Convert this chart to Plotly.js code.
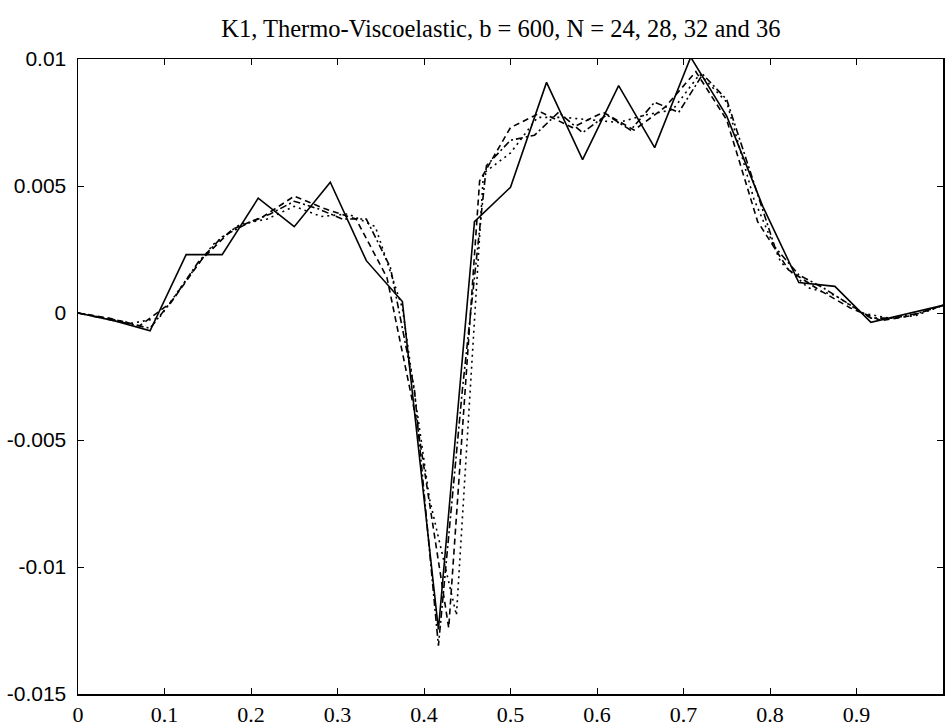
<!DOCTYPE html>
<html>
<head>
<meta charset="utf-8">
<script src="https://cdn.plot.ly/plotly-3.0.1.min.js"></script>
<style>
  html, body { margin: 0; padding: 0; background: #ffffff; }
  #chart { width: 945px; height: 728px; }
</style>
</head>
<body>
<div id="chart"></div>
<script>
// ---- Data ----
// N = 24 (solid), nodes at i/24
const n24Values = [0, -0.0003, -0.0007, 0.0023, 0.0023, 0.00452, 0.0034, 0.00515, 0.00206, 0.00045,
  -0.01246, 0.0036, 0.00495, 0.00908, 0.00604, 0.00895, 0.00651, 0.01007, 0.00775, 0.0042,
  0.0012, 0.00105, -0.00037, -0.00005, 0.0003];
// N = 28 (dashed), nodes at i/28
const n28Values = [0, -0.0002, -0.0005, 0.0004, 0.0021, 0.0033, 0.0038, 0.0046, 0.0041, 0.0037,
  0.0014, -0.0045, -0.0124, 0.0052, 0.0073, 0.0079, 0.0073, 0.0079, 0.0072, 0.0081,
  0.0095, 0.0076, 0.0036, 0.0017, 0.0009, 0.0002, -0.0003, -0.0001, 0.0003];
// N = 32 (dotted), nodes at i/32
const n32Values = [0, -0.0002, -0.0004, -0.0002, 0.0013, 0.0027, 0.0035, 0.0037, 0.0042, 0.0038,
  0.0039, 0.0034, 0.0002, -0.0073, -0.0119, 0.0055, 0.0063, 0.0077, 0.0077, 0.0076,
  0.0075, 0.0078, 0.0080, 0.0094, 0.0083, 0.0045, 0.0020, 0.0010, 0.0007, 0.0000,
  -0.0002, -0.0001, 0.0003];
// N = 36 (dash-dot), nodes at i/36
const n36Values = [0, -0.0002, -0.0004, -0.0006, 0.0006, 0.0020, 0.0030, 0.0035, 0.0039, 0.0044,
  0.0041, 0.0037, 0.0037, 0.0018, -0.0030, -0.0131, -0.0030, 0.0058, 0.0068, 0.0070,
  0.0079, 0.0071, 0.0078, 0.0072, 0.0083, 0.0079, 0.0094, 0.0084, 0.0055, 0.0026,
  0.0015, 0.0010, 0.0004, -0.0002, -0.0002, 0.0000, 0.0003];

const xTickVals = [0, 0.1, 0.2, 0.3, 0.4, 0.5, 0.6, 0.7, 0.8, 0.9];
const xTickText = ["0", "0.1", "0.2", "0.3", "0.4", "0.5", "0.6", "0.7", "0.8", "0.9"];
const yTickVals = [0.01, 0.005, 0, -0.005, -0.01, -0.015];
const yTickText = ["0.01", "0.005", "0", "-0.005", "-0.01", "-0.015"];

const titleText = "K1, Thermo-Viscoelastic, b = 600, N = 24, 28, 32 and 36";

function nodes(values) {
  const n = values.length - 1;
  return values.map((_, i) => i / n);
}

function trace(values, dash, name) {
  return {
    x: nodes(values), y: values, type: 'scatter', mode: 'lines', name: name,
    line: { color: '#000000', width: 1.6, dash: dash }, hoverinfo: 'skip'
  };
}

const data = [
  trace(n24Values, 'solid', 'N = 24'),
  trace(n28Values, '6px,4px', 'N = 28'),
  trace(n32Values, '2px,4px', 'N = 32'),
  trace(n36Values, '7px,3px,2px,3px', 'N = 36')
];

const layout = {
  width: 945, height: 728,
  paper_bgcolor: '#ffffff', plot_bgcolor: '#ffffff',
  margin: { l: 78, r: 2, t: 59, b: 34 },
  showlegend: false,
  title: {
    text: titleText,
    font: { family: 'Liberation Serif, Times New Roman, serif', size: 24.5, color: '#000000' },
    x: 0.53, xanchor: 'center', y: 0.961, yanchor: 'middle'
  },
  xaxis: {
    range: [0, 1], tickmode: 'array', tickvals: xTickVals, ticktext: xTickText,
    ticks: 'inside', ticklen: 6, tickwidth: 1, tickcolor: '#000000',
    showline: true, linecolor: '#000000', linewidth: 1.5, mirror: 'ticks',
    showgrid: false, zeroline: false,
    tickfont: { family: 'Liberation Serif, Times New Roman, serif', size: 22, color: '#000000' }
  },
  yaxis: {
    range: [-0.015, 0.01], tickmode: 'array', tickvals: yTickVals, ticktext: yTickText,
    ticks: 'inside', ticklen: 6, tickwidth: 1, tickcolor: '#000000',
    showline: true, linecolor: '#000000', linewidth: 1.5, mirror: 'ticks',
    showgrid: false, zeroline: false, ticklabelstandoff: 6,
    tickfont: { family: 'Liberation Sans, Arial, sans-serif', size: 21, color: '#000000' }
  }
};

Plotly.newPlot('chart', data, layout, { staticPlot: true, displayModeBar: false });
</script>
</body>
</html>
